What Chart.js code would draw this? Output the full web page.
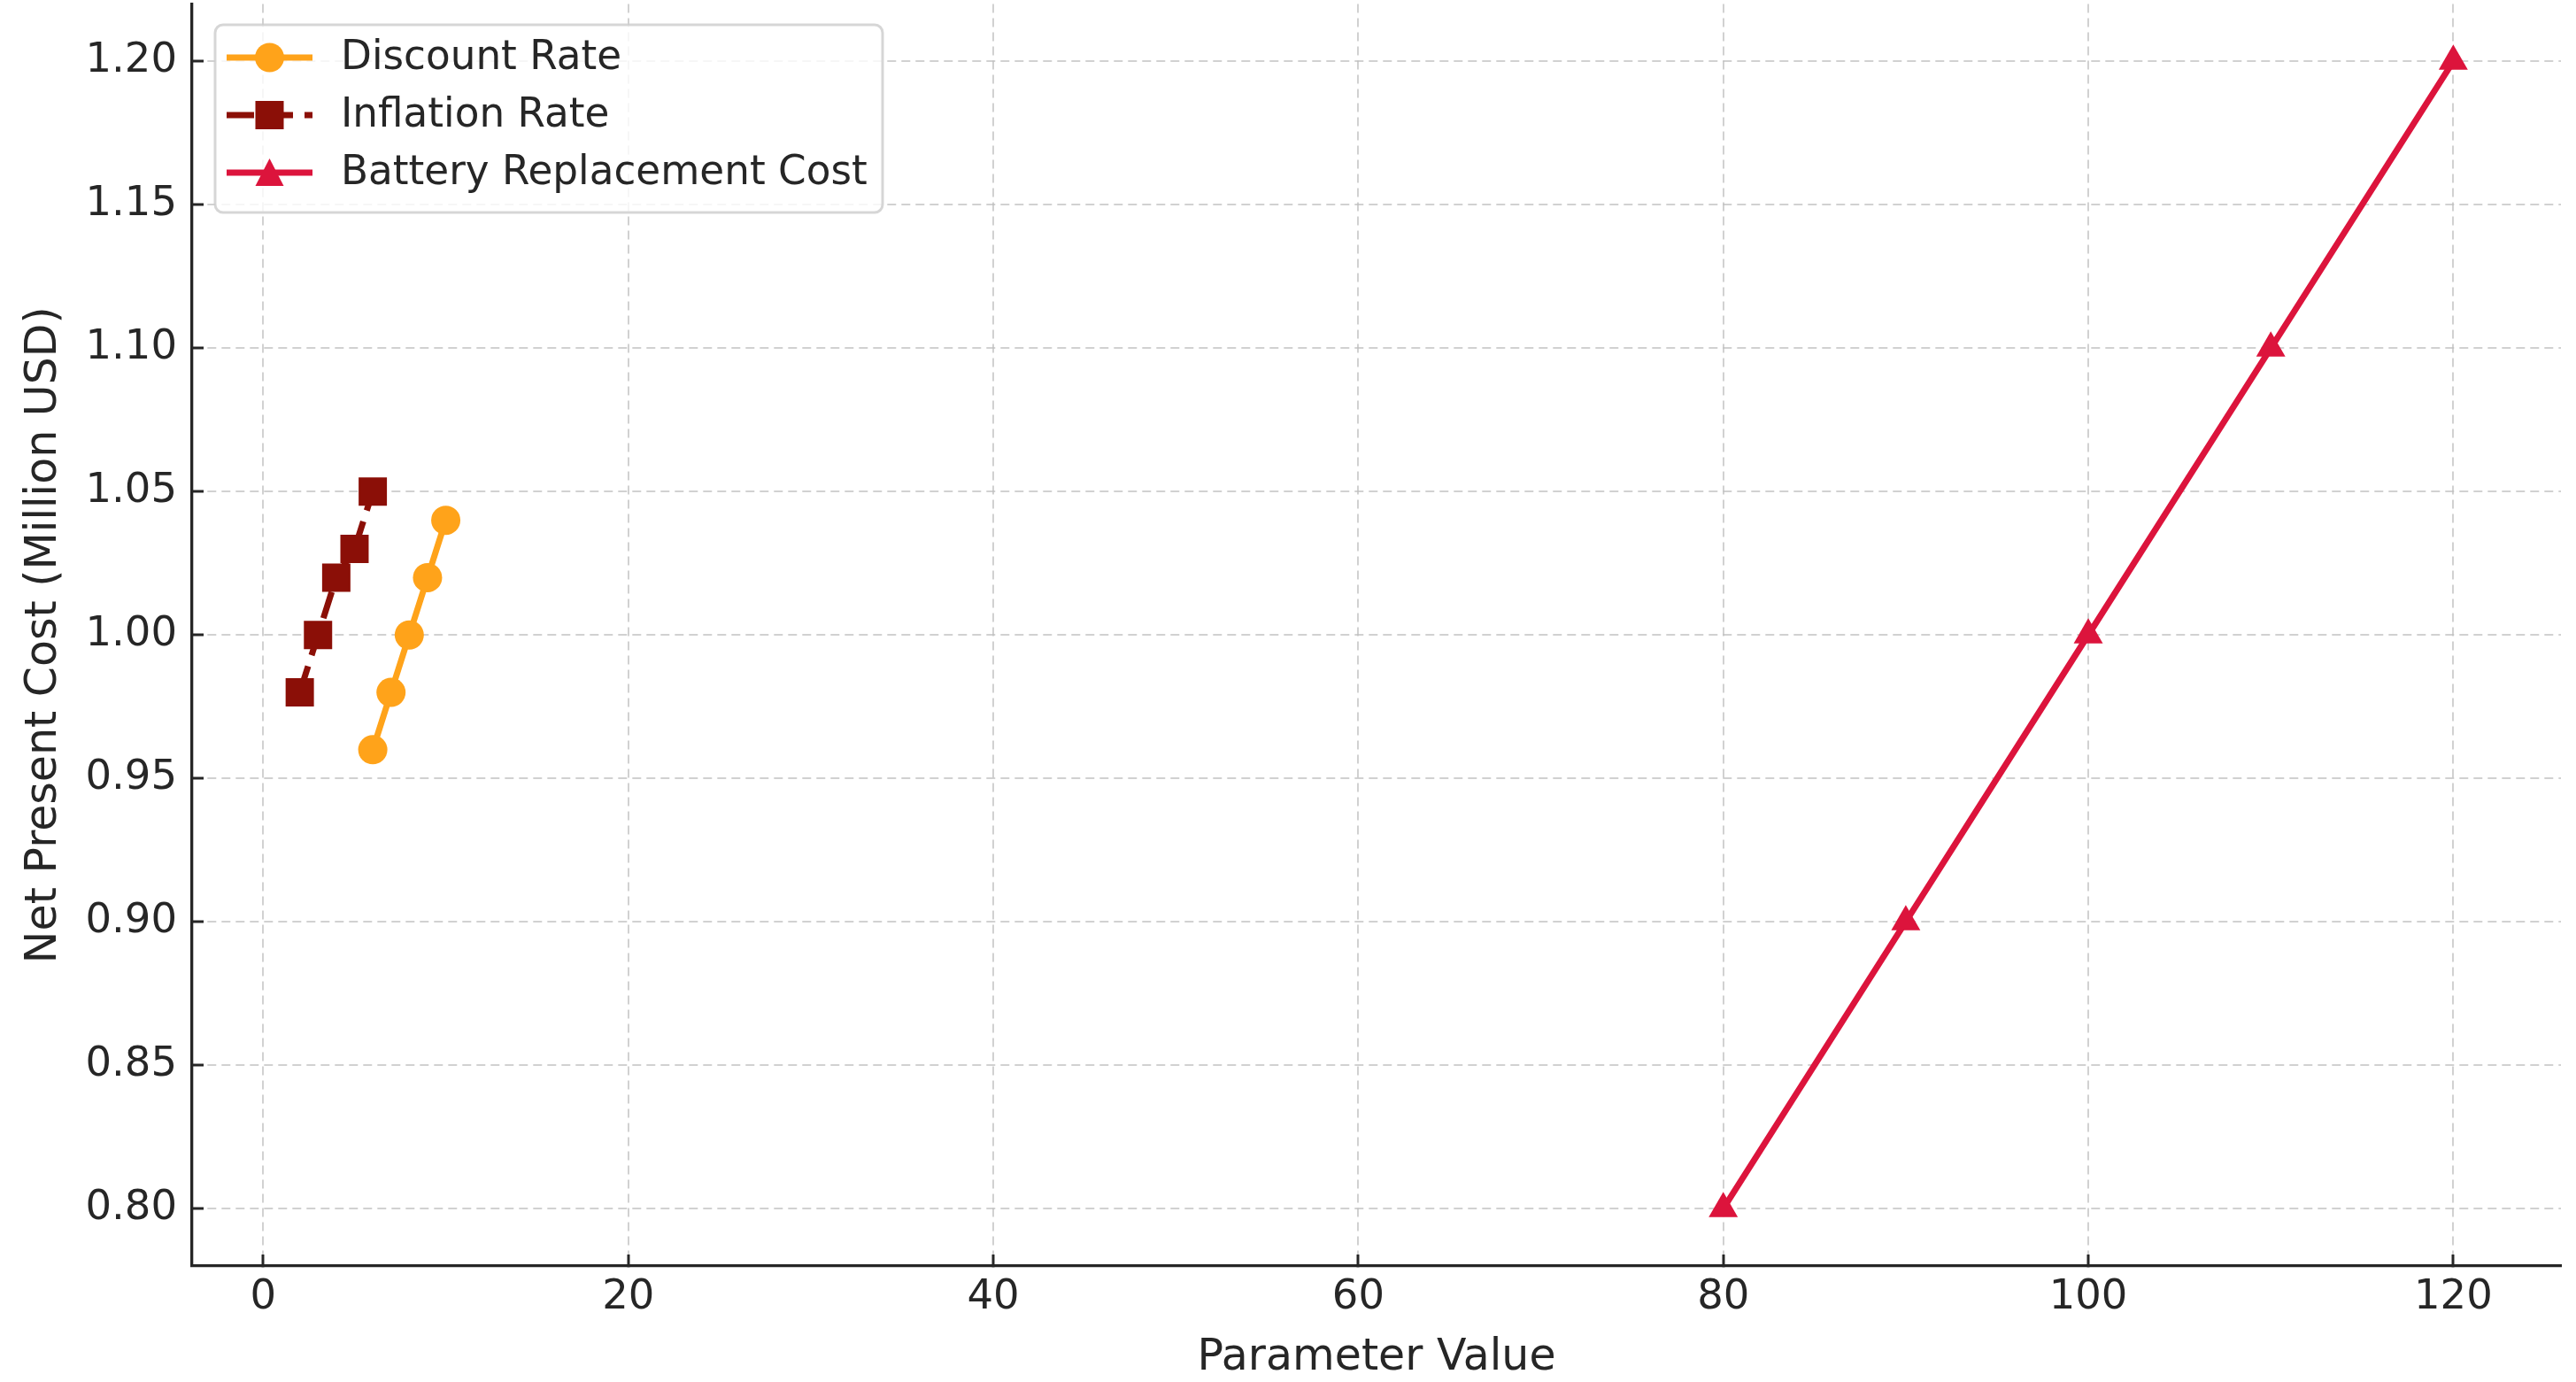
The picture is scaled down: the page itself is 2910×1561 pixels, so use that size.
<!DOCTYPE html>
<html>
<head>
<meta charset="utf-8">
<script src="https://cdn.jsdelivr.net/npm/chart.js@4/dist/chart.umd.min.js"></script>
<style>
  html, body { margin: 0; padding: 0; background: #fff; }
  #wrap { width: 2910px; height: 1561px; }
</style>
</head>
<body>
<div id="wrap"><canvas id="npc" width="2910" height="1561"></canvas></div>
<script>
// Sensitivity data
const seriesLabels = ['Discount Rate', 'Inflation Rate', 'Battery Replacement Cost'];
const discountX = [6, 7, 8, 9, 10];
const discountY = [0.96, 0.98, 1.00, 1.02, 1.04];
const inflationX = [2, 3, 4, 5, 6];
const inflationY = [0.98, 1.00, 1.02, 1.03, 1.05];
const batteryX = [80, 90, 100, 110, 120];
const batteryY = [0.80, 0.90, 1.00, 1.10, 1.20];
const xTicks = [0, 20, 40, 60, 80, 100, 120];
const yTicks = [0.80, 0.85, 0.90, 0.95, 1.00, 1.05, 1.10, 1.15, 1.20];

const FONT = "'DejaVu Sans', 'Liberation Sans', sans-serif";
const TEXT = '#262626';

const toPoints = (xs, ys) => xs.map((x, i) => ({ x, y: ys[i] }));

// Legend drawn inside the plot, line + marker handles like the original
const insideLegend = {
  id: 'insideLegend',
  afterDraw(chart) {
    const { ctx, chartArea } = chart;
    const bx = chartArea.left + 26, by = chartArea.top + 23.5;
    const bw = 754, bh = 212, r = 9;
    ctx.save();
    ctx.beginPath();
    ctx.roundRect(bx, by, bw, bh, r);
    ctx.fillStyle = 'rgba(255,255,255,0.8)';
    ctx.fill();
    ctx.lineWidth = 3;
    ctx.strokeStyle = 'rgba(204,204,204,0.8)';
    ctx.stroke();

    chart.data.datasets.forEach((ds, i) => {
      const y = by + 37 + i * 65;
      const x0 = bx + 13, x1 = bx + 110, xm = (x0 + x1) / 2;
      ctx.setLineDash(ds.borderDash || []);
      ctx.lineWidth = ds.borderWidth;
      ctx.strokeStyle = ds.borderColor;
      ctx.beginPath();
      ctx.moveTo(x0, y);
      ctx.lineTo(x1, y);
      ctx.stroke();
      ctx.setLineDash([]);
      ctx.fillStyle = ds.borderColor;
      ctx.beginPath();
      if (ds.pointStyle === 'circle') {
        ctx.arc(xm, y, 16.5, 0, Math.PI * 2);
      } else if (ds.pointStyle === 'rect') {
        ctx.rect(xm - 16, y - 16, 32, 32);
      } else {
        ctx.moveTo(xm, y - 16);
        ctx.lineTo(xm + 16, y + 15);
        ctx.lineTo(xm - 16, y + 15);
        ctx.closePath();
      }
      ctx.fill();

      ctx.fillStyle = TEXT;
      ctx.font = '45.3px ' + FONT;
      ctx.textBaseline = 'middle';
      ctx.textAlign = 'left';
      ctx.fillText(ds.label, bx + 142, y + 1);
    });
    ctx.restore();
  }
};

new Chart(document.getElementById('npc'), {
  type: 'scatter',
  data: {
    datasets: [
      {
        label: seriesLabels[0],
        data: toPoints(discountX, discountY),
        showLine: true,
        borderColor: '#FFA31A',
        backgroundColor: '#FFA31A',
        pointBackgroundColor: '#FFA31A',
        borderWidth: 7,
        pointStyle: 'circle',
        pointRadius: 16.5,
        pointBorderWidth: 0,
        order: 3,
      },
      {
        label: seriesLabels[1],
        data: toPoints(inflationX, inflationY),
        showLine: true,
        borderColor: '#8B0F07',
        backgroundColor: '#8B0F07',
        pointBackgroundColor: '#8B0F07',
        borderWidth: 7,
        borderDash: [31, 13],
        pointStyle: 'rect',
        pointRadius: 22.6,
        pointBorderWidth: 0,
        order: 2,
      },
      {
        label: seriesLabels[2],
        data: toPoints(batteryX, batteryY),
        showLine: true,
        borderColor: '#DC143C',
        backgroundColor: '#DC143C',
        pointBackgroundColor: '#DC143C',
        borderWidth: 7,
        pointStyle: 'triangle',
        pointRadius: 19,
        pointBorderWidth: 0,
        order: 1,
      },
    ],
  },
  options: {
    responsive: false,
    animation: false,
    devicePixelRatio: 1,
    layout: {
      autoPadding: false,
      padding: { top: 4.5, right: 17, left: 0, bottom: 0 },
    },
    plugins: {
      legend: { display: false },
      tooltip: { enabled: false },
    },
    scales: {
      x: {
        type: 'linear',
        min: -3.9,
        max: 125.9,
        afterBuildTicks: s => { s.ticks = xTicks.map(v => ({ value: v })); },
        afterFit: s => {
          s.height = 131;
          s.paddingLeft = 0;
          s.paddingRight = 0;
        },
        grid: {
          color: 'rgba(190,190,190,0.7)',
          lineWidth: 2,
          tickLength: -13,
          tickWidth: 3,
          tickColor: TEXT,
        },
        border: { display: true, color: TEXT, width: 3.3, dash: [10, 6] },
        ticks: {
          color: TEXT,
          padding: 21,
          font: { family: FONT, size: 46.5 },
          callback: v => String(v),
        },
        title: {
          display: true,
          text: 'Parameter Value',
          color: TEXT,
          font: { family: FONT, size: 49, lineHeight: 1 },
          padding: { top: 0, bottom: 2 },
        },
      },
      y: {
        type: 'linear',
        min: 0.78,
        max: 1.22,
        afterBuildTicks: s => { s.ticks = yTicks.map(v => ({ value: v })); },
        afterFit: s => {
          s.width = 217;
          s.paddingTop = 0;
          s.paddingBottom = 0;
        },
        grid: {
          color: 'rgba(190,190,190,0.7)',
          lineWidth: 2,
          tickLength: -13,
          tickWidth: 3,
          tickColor: TEXT,
        },
        border: { display: true, color: TEXT, width: 3.3, dash: [10, 6] },
        ticks: {
          color: TEXT,
          padding: 30,
          font: { family: FONT, size: 46.5 },
          callback: v => v.toFixed(2),
        },
        title: {
          display: true,
          text: 'Net Present Cost (Million USD)',
          color: TEXT,
          font: { family: FONT, size: 49, lineHeight: 1 },
          padding: { top: 26, bottom: 0 },
        },
      },
    },
  },
  plugins: [insideLegend],
});
</script>
</body>
</html>
